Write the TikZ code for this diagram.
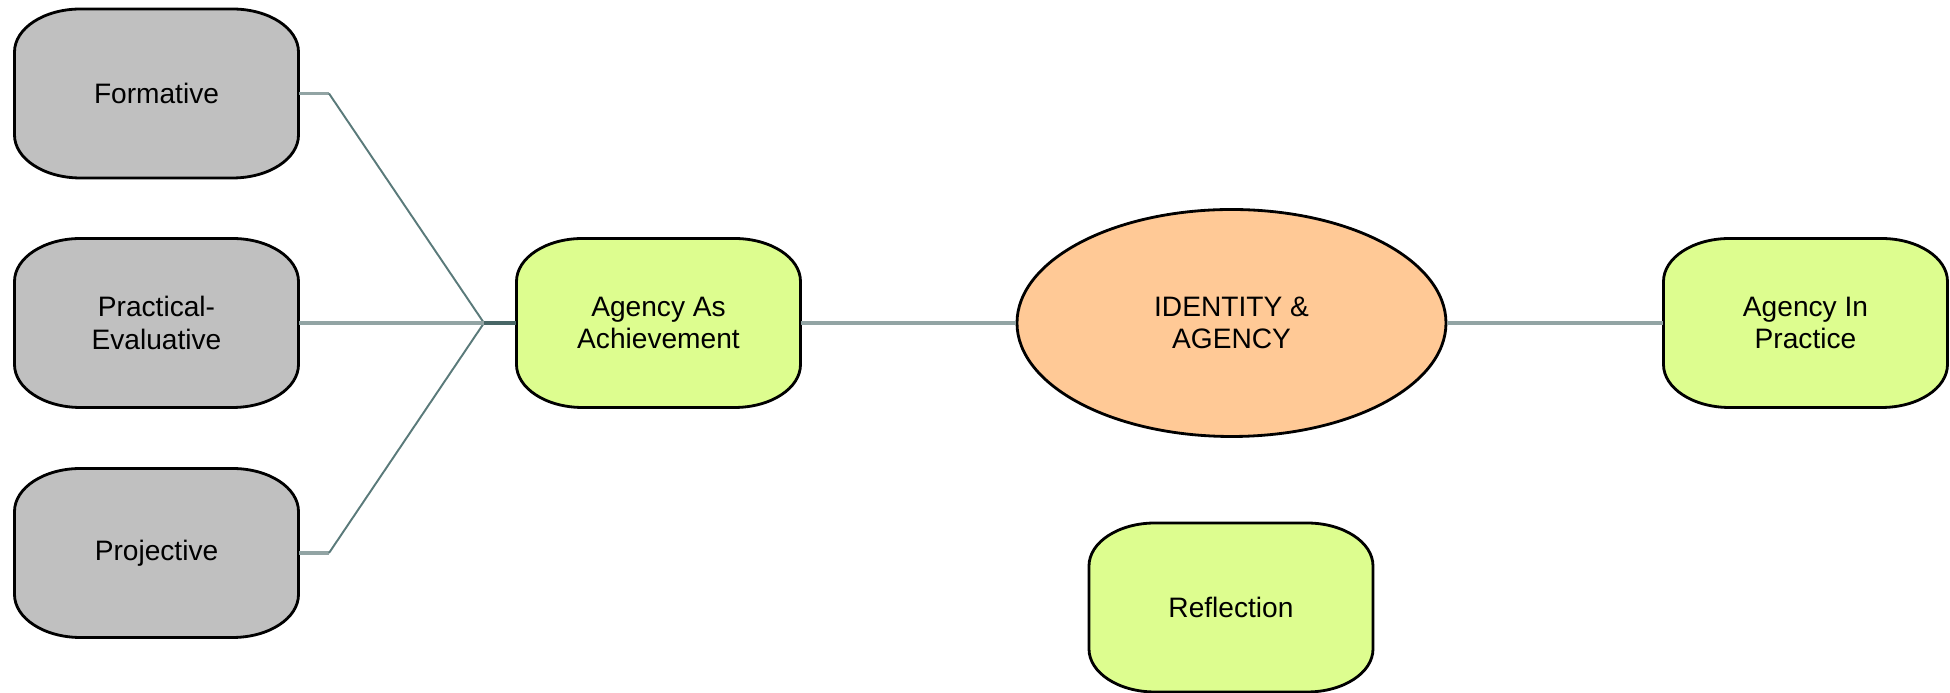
\documentclass[tikz,border=0pt]{standalone}
\usepackage{fontspec}
\setmainfont{Liberation Sans}
\usetikzlibrary{shapes.geometric}
\definecolor{boxgray}{RGB}{192,192,192}
\definecolor{boxgreen}{RGB}{221,253,143}
\definecolor{corepeach}{RGB}{255,201,150}
\definecolor{linklight}{RGB}{146,164,164}
\definecolor{linkdark}{RGB}{90,122,122}
\definecolor{linkjoin}{RGB}{72,102,102}
\tikzset{
  boxline/.style={draw=black, line width=0.8pt},
  boxtext/.style={rectangle, minimum width=2.84cm, minimum height=1.69cm,
    inner sep=0pt, align=center, font=\fontsize{8}{9.2}\selectfont},
  link/.style={draw=linklight, line width=0.95pt},
  diag/.style={draw=linkdark, line width=0.55pt},
  joinlink/.style={draw=linkjoin, line width=1.2pt},
}
% rounded box with elliptical corners, drawn under a named text node
\newcommand\softbox[4]{%
  \path[boxline, fill=#3] (#2) ++(-0.76,0.845) -- ++(1.52,0)
    arc[start angle=90, end angle=0, x radius=0.66, y radius=0.43] -- ++(0,-0.83)
    arc[start angle=0, end angle=-90, x radius=0.66, y radius=0.43] -- ++(-1.52,0)
    arc[start angle=-90, end angle=-180, x radius=0.66, y radius=0.43] -- ++(0,0.83)
    arc[start angle=180, end angle=90, x radius=0.66, y radius=0.43] -- cycle;
  \node[boxtext] (#1) at (#2) {#4};
}
\begin{document}
\begin{tikzpicture}
\useasboundingbox (0,0) rectangle (19.5,6.93);

% left column: modes of agency
\softbox{form}{1.565,5.995}{boxgray}{Formative}
\softbox{prac}{1.565,3.70}{boxgray}{Practical-\\Evaluative}
\softbox{proj}{1.565,1.40}{boxgray}{Projective}

% middle and right
\softbox{ach}{6.585,3.70}{boxgreen}{Agency As\\Achievement}
\node[ellipse, boxline, fill=corepeach, minimum width=4.29cm, minimum height=2.27cm,
  inner sep=0pt, align=center, font=\fontsize{8}{9.2}\selectfont]
  (core) at (12.315,3.70) {IDENTITY \&\\AGENCY};
\softbox{prax}{18.055,3.70}{boxgreen}{Agency In\\Practice}
\softbox{refl}{12.31,0.855}{boxgreen}{Reflection}

% connector junction points
\coordinate (fstub) at (3.29,5.995);
\coordinate (pstub) at (3.29,1.40);
\coordinate (hub) at (4.84,3.70);

\draw[link] (form.east) -- (fstub);
\draw[diag] (fstub) -- (hub);
\draw[link] (proj.east) -- (pstub);
\draw[diag] (pstub) -- (hub);
\draw[link] (prac.east) -- (hub);
\draw[joinlink] (hub) -- (ach.west);

\draw[link] (ach.east) -- (core.west);
\draw[link] (core.east) -- (prax.west);
\end{tikzpicture}
\end{document}
